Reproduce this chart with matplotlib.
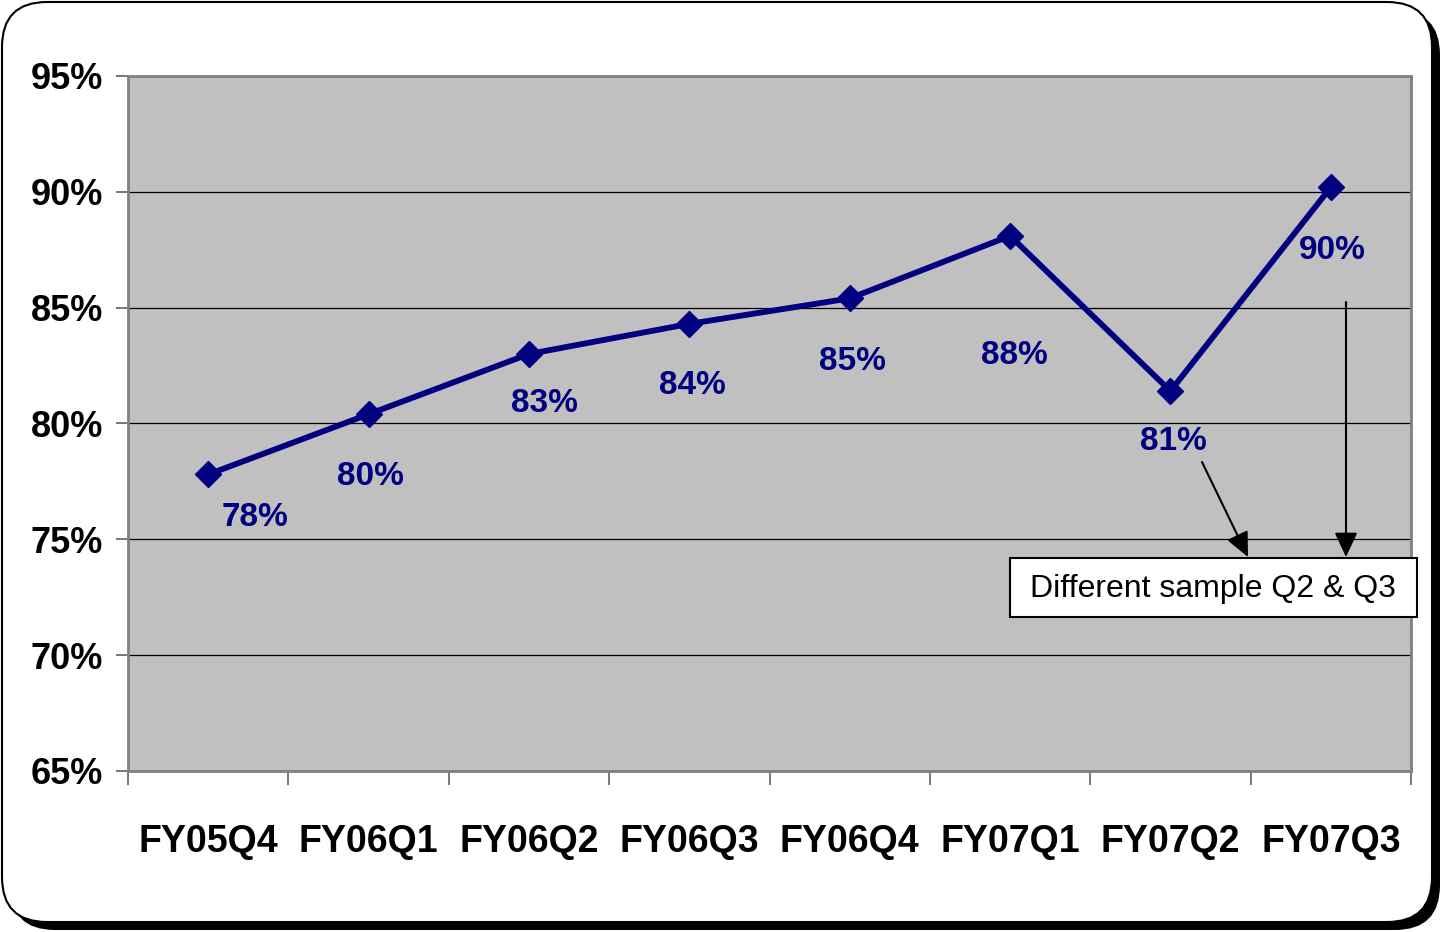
import matplotlib.pyplot as plt
import numpy as np
from matplotlib.patches import FancyBboxPatch, Rectangle

quarters = ['FY05Q4', 'FY06Q1', 'FY06Q2', 'FY06Q3', 'FY06Q4', 'FY07Q1', 'FY07Q2', 'FY07Q3']
scores = [77.8, 80.4, 83.0, 84.3, 85.4, 88.1, 81.4, 90.2]
y_ticks = [65, 70, 75, 80, 85, 90, 95]

# label offsets in pixels (dx, dy) from each point
label_offsets = [(47, -43), (2, -62), (16, -50), (3, -62), (3, -63), (4, -120), (3, -50), (1, -63)]

font = 'Liberation Sans'
navy = '#000080'

fig = plt.figure(figsize=(14.42, 9.32), dpi=100)

# background frame with shadow
bg = fig.add_axes([0, 0, 1, 1], zorder=0)
bg.set_xlim(0, 1442)
bg.set_ylim(932, 0)
bg.axis('off')
bg.add_patch(FancyBboxPatch((10, 10), 1430, 920, boxstyle='round,pad=0,rounding_size=45',
                            fc='black', ec='black', lw=0))
bg.add_patch(FancyBboxPatch((2, 2), 1430, 920, boxstyle='round,pad=0,rounding_size=45',
                            fc='white', ec='black', lw=1.5))

ax = fig.add_axes([128 / 1442, 1 - 771 / 932, 1283 / 1442, 695 / 932], zorder=1)
ax.set_facecolor('#C0C0C0')
x = np.arange(len(quarters))
ax.plot(x, scores, color=navy, lw=4.2, marker='D', ms=13, zorder=3)

for xi, v, (dx, dy) in zip(x, scores, label_offsets):
    ax.annotate(f'{v:.0f}%', (xi, v), xytext=(dx, dy), textcoords='offset pixels',
                ha='center', va='center', color=navy, fontsize=24, fontweight='bold',
                family=font)

ax.set_xlim(-0.5, len(quarters) - 0.5)
ax.set_ylim(65, 95)
ax.set_yticks(y_ticks)
ax.set_yticklabels([f'{t}%' for t in y_ticks], fontsize=26, fontweight='bold', family=font)
ax.yaxis.grid(True, color='black', lw=0.9)
ax.set_axisbelow(True)
ax.tick_params(axis='y', length=9, width=1.2, color='#606060', pad=9)

ax.set_xticks(x)
ax.set_xticklabels(quarters, fontsize=27, fontweight='bold', family=font)
ax.set_xticks(np.arange(len(quarters) + 1) - 0.5, minor=True)
ax.tick_params(axis='x', which='major', length=0, pad=38)
ax.tick_params(axis='x', which='minor', length=10, width=1.2, color='#606060')

for s in ax.spines.values():
    s.set_color('#808080')
    s.set_linewidth(2)

# note box and arrows
top = fig.add_axes([0, 0, 1, 1], zorder=3)
top.set_xlim(0, 1442)
top.set_ylim(932, 0)
top.axis('off')
top.add_patch(Rectangle((1010, 558), 407, 59, fc='white', ec='black', lw=1.5))
top.text(1213, 589, 'Different sample Q2 & Q3', ha='center', va='center',
         fontsize=23, family=font)
arrow = dict(arrowstyle='-|>,head_length=1.5,head_width=0.7', lw=1.5, color='black',
             shrinkA=0, shrinkB=0)
top.annotate('', xy=(1248, 557), xytext=(1202, 462), arrowprops=arrow)
top.annotate('', xy=(1346, 557), xytext=(1346, 302), arrowprops=arrow)

fig.savefig('out.png', dpi=100)
